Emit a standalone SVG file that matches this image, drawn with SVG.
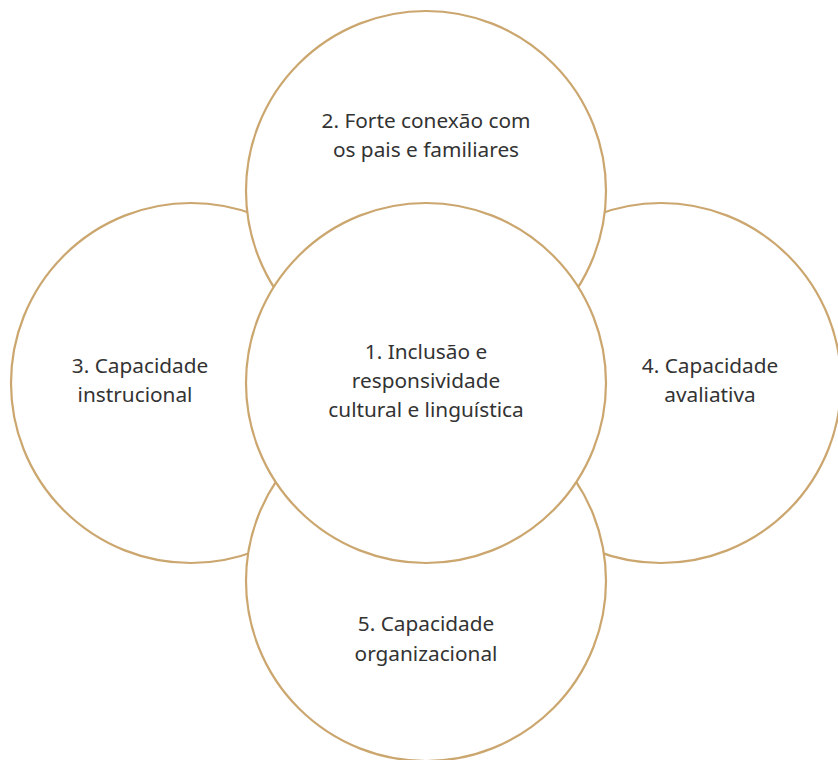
<svg xmlns="http://www.w3.org/2000/svg" width="838" height="760" viewBox="0 0 838 760">
<style>
.c{fill:#fff;stroke:#cba66e;stroke-width:2.2}
.t{font-family:"Noto Sans","Open Sans",sans-serif;font-size:20.8px;fill:#333;text-anchor:middle}
</style>
<rect width="838" height="760" fill="#fff"/>
<g id="n3"><circle class="c" cx="191" cy="383" r="180"/><text class="t" x="140" y="373">3. Capacidade</text><text class="t" x="135" y="402">instrucional</text></g>
<g id="n4"><circle class="c" cx="661" cy="383" r="180"/><text class="t" x="710" y="373">4. Capacidade</text><text class="t" x="710" y="402">avaliativa</text></g>
<g id="n2"><circle class="c" cx="426" cy="191" r="180"/><text class="t" x="426" y="128">2. Forte conexão com</text><text class="t" x="426" y="157">os pais e familiares</text></g>
<g id="n5"><circle class="c" cx="426" cy="581" r="180"/><text class="t" x="426" y="631">5. Capacidade</text><text class="t" x="426" y="661">organizacional</text></g>
<g id="n1"><circle class="c" cx="426" cy="383" r="180"/><text class="t" x="426" y="359">1. Inclusão e</text><text class="t" x="426" y="388">responsividade</text><text class="t" x="426" y="417">cultural e linguística</text></g>
<g id="connectors"></g>
</svg>
